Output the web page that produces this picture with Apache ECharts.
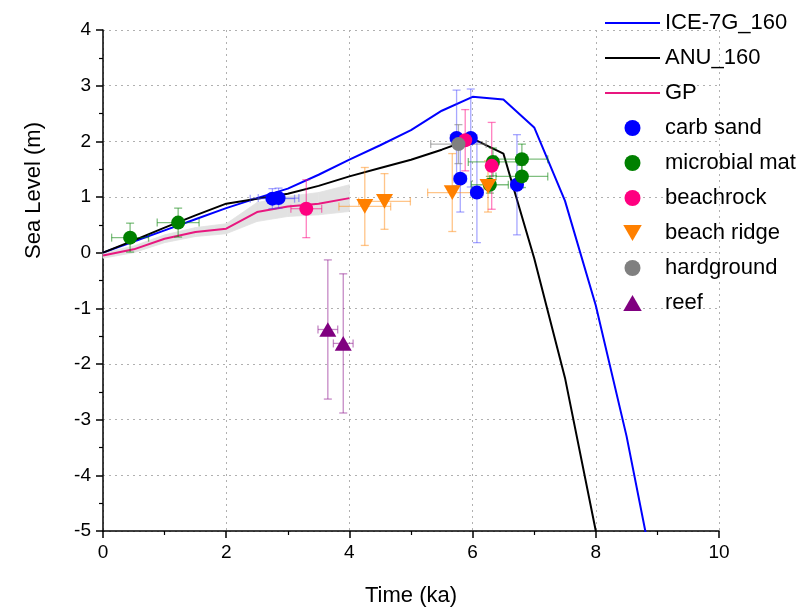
<!DOCTYPE html>
<html>
<head>
<meta charset="utf-8">
<script src="https://cdn.jsdelivr.net/npm/echarts@6/dist/echarts.min.js"></script>
<style>
html,body{margin:0;padding:0;background:#fff;}
#chart{width:809px;height:612px;}
</style>
</head>
<body>
<div id="chart"></div>
<script>
// ---- Model curves ----
const iceTime = [0,0.5,1,1.5,2,2.5,3,3.5,4,4.5,5,5.5,6,6.5,7,7.5,8,8.5,9];
const ice7g   = [0,0.2,0.4,0.6,0.8,0.98,1.15,1.4,1.67,1.93,2.2,2.55,2.8,2.75,2.25,0.93,-0.95,-3.3,-6.1];
const anuTime = [0,0.5,1,1.5,2,2.5,3,3.5,4,4.5,5,5.5,6,6.5,7,7.5,8];
const anu     = [0,0.22,0.45,0.67,0.88,0.97,1.06,1.2,1.37,1.52,1.67,1.85,2.05,1.78,-0.1,-2.25,-5.0];
const gpTime  = [0,0.5,1,1.5,2,2.5,3,3.5,4];
const gp      = [-0.05,0.06,0.25,0.37,0.43,0.73,0.83,0.88,0.98];
const gpLow   = [-0.10,0.00,0.18,0.29,0.34,0.56,0.65,0.68,0.74];
const gpHigh  = [0.00,0.12,0.32,0.45,0.52,0.90,1.01,1.08,1.22];

// ---- Observations: time, level, time error, level error ----
const carbSandT  = [2.75,2.85,5.74,5.97,5.8,6.07,6.72];
const carbSandY  = [0.97,0.98,2.06,2.06,1.33,1.08,1.22];
const carbSandTE = [0.36,0.33,0.1,0.1,0.1,0.1,0.1];
const carbSandYE = [0.18,0.18,0.86,0.88,0.6,0.9,0.9];

const microbT  = [0.44,1.22,6.33,6.8,6.8,6.28];
const microbY  = [0.27,0.54,1.63,1.68,1.37,1.22];
const microbTE = [0.3,0.34,0.4,0.42,0.42,0.3];
const microbYE = [0.26,0.26,0.25,0.27,0.2,0.15];

const beachrockT  = [3.3,5.88,6.31];
const beachrockY  = [0.79,2.02,1.56];
const beachrockTE = [0.25,0.1,0.06];
const beachrockYE = [0.52,0.55,0.78];

const ridgeT  = [4.25,4.57,5.67,6.25];
const ridgeY  = [0.83,0.92,1.08,1.19];
const ridgeTE = [0.42,0.42,0.4,0.07];
const ridgeYE = [0.7,0.5,0.7,0.46];

const hardT  = [5.77];
const hardY  = [1.95];
const hardTE = [0.45];
const hardYE = [0.35];

const reefT  = [3.65,3.9];
const reefY  = [-1.38,-1.63];
const reefTE = [0.16,0.16];
const reefYE = [1.25,1.25];

const xTicks = {min:0, max:10, interval:2};
const yTicks = {min:-5, max:4, interval:1};

const FONT = '"Liberation Sans", Arial, sans-serif';

function pairs(xs, ys){ return xs.map((x,i)=>[x, ys[i]]); }
function quad(xs, ys, xe, ye){ return xs.map((x,i)=>[x, ys[i], xe[i], ye[i]]); }

function errSeries(data, color){
  return {
    type:'custom', z:3, silent:true,
    data: data,
    encode:{x:0, y:1},
    renderItem: function(params, api){
      const x = api.value(0), y = api.value(1), xe = api.value(2), ye = api.value(3);
      const l = api.coord([x-xe, y]), r = api.coord([x+xe, y]);
      const t = api.coord([x, y+ye]), b = api.coord([x, y-ye]);
      const c = 4;
      const st = {stroke: color, lineWidth: 1.3, fill: null};
      return {type:'group', children:[
        {type:'line', shape:{x1:l[0],y1:l[1],x2:r[0],y2:r[1]}, style:st},
        {type:'line', shape:{x1:t[0],y1:t[1],x2:b[0],y2:b[1]}, style:st},
        {type:'line', shape:{x1:l[0],y1:l[1]-c,x2:l[0],y2:l[1]+c}, style:st},
        {type:'line', shape:{x1:r[0],y1:r[1]-c,x2:r[0],y2:r[1]+c}, style:st},
        {type:'line', shape:{x1:t[0]-c,y1:t[1],x2:t[0]+c,y2:t[1]}, style:st},
        {type:'line', shape:{x1:b[0]-c,y1:b[1],x2:b[0]+c,y2:b[1]}, style:st}
      ]};
    }
  };
}

const bandData = gpTime.slice(0,-1).map((t,i)=>[t, gpLow[i], gpHigh[i], gpTime[i+1], gpLow[i+1], gpHigh[i+1]]);

const axisCommon = {
  axisLine:{show:true, onZero:false, lineStyle:{color:'#000', width:1.5}},
  axisTick:{show:true, inside:false, length:7, lineStyle:{color:'#000', width:1.5}},
  minorTick:{show:true, splitNumber:2, length:4, lineStyle:{color:'#000', width:1.2}},
  splitLine:{show:true, lineStyle:{color:'#b0b0b0', width:1, type:[2,4]}},
  axisLabel:{color:'#000', fontSize:19, fontFamily:FONT},
  nameTextStyle:{color:'#000', fontSize:22, fontFamily:FONT}
};

const LINE_ICON = 'path://M0,0L60,0L60,2.2L0,2.2Z';
const DOWN_TRI = 'path://M0,0L10,0L5,8.66Z';
const UP_TRI = 'path://M5,0L10,8.66L0,8.66Z';

const chart = echarts.init(document.getElementById('chart'), null, {renderer:'canvas'});
chart.setOption({
  animation:false,
  backgroundColor:'#fff',
  grid:{left:103, right:90, top:30, bottom:80, containLabel:false},
  xAxis: Object.assign({type:'value', name:'Time (ka)', nameLocation:'middle', nameGap:54}, xTicks, axisCommon,
    {axisLabel:Object.assign({}, axisCommon.axisLabel, {margin:12})}),
  yAxis: Object.assign({type:'value', name:'Sea Level (m)', nameLocation:'middle', nameGap:58}, yTicks, axisCommon,
    {axisLabel:Object.assign({}, axisCommon.axisLabel, {margin:12}),
     nameTextStyle:Object.assign({}, axisCommon.nameTextStyle, {padding:[0,0,0,180]})}),
  legend:{
    orient:'vertical', left:600, top:7, itemWidth:55, itemHeight:16, itemGap:13,
    textStyle:{fontSize:22, fontFamily:FONT, color:'#000', lineHeight:20},
    data:[
      {name:'ICE-7G_160', icon:LINE_ICON},
      {name:'ANU_160', icon:LINE_ICON},
      {name:'GP', icon:LINE_ICON},
      {name:'carb sand', icon:'circle'},
      {name:'microbial mat', icon:'circle'},
      {name:'beachrock', icon:'circle'},
      {name:'beach ridge', icon:DOWN_TRI},
      {name:'hardground', icon:'circle'},
      {name:'reef', icon:UP_TRI}
    ]
  },
  series:[
    {
      type:'custom', name:'GPband', z:1, silent:true, data:bandData,
      encode:{x:[0,3], y:[1,2,4,5]},
      renderItem:function(params, api){
        const p1 = api.coord([api.value(0), api.value(1)]);
        const p2 = api.coord([api.value(3), api.value(4)]);
        const p3 = api.coord([api.value(3), api.value(5)]);
        const p4 = api.coord([api.value(0), api.value(2)]);
        return {type:'polygon', shape:{points:[p1,p2,p3,p4]}, style:{fill:'#e2e2e2', stroke:'#e2e2e2', lineWidth:0.8}};
      }
    },
    {type:'line', name:'ICE-7G_160', z:2, symbol:'none', data:pairs(iceTime, ice7g), lineStyle:{color:'#0000ff', width:2}, itemStyle:{color:'#0000ff'}},
    {type:'line', name:'ANU_160', z:2, symbol:'none', data:pairs(anuTime, anu), lineStyle:{color:'#000000', width:2}, itemStyle:{color:'#000000'}},
    {type:'line', name:'GP', z:2, symbol:'none', data:pairs(gpTime, gp), lineStyle:{color:'#e8177f', width:2}, itemStyle:{color:'#e8177f'}},
    errSeries(quad(carbSandT, carbSandY, carbSandTE, carbSandYE), 'rgba(60,60,255,0.45)'),
    errSeries(quad(microbT, microbY, microbTE, microbYE), 'rgba(0,128,0,0.5)'),
    errSeries(quad(beachrockT, beachrockY, beachrockTE, beachrockYE), 'rgba(255,0,128,0.5)'),
    errSeries(quad(ridgeT, ridgeY, ridgeTE, ridgeYE), 'rgba(255,140,20,0.5)'),
    errSeries(quad(hardT, hardY, hardTE, hardYE), 'rgba(128,128,128,0.6)'),
    errSeries(quad(reefT, reefY, reefTE, reefYE), 'rgba(150,40,150,0.55)'),
    {type:'scatter', name:'carb sand', z:4, symbol:'circle', symbolSize:14, data:pairs(carbSandT, carbSandY), itemStyle:{color:'#0000ff', opacity:1}},
    {type:'scatter', name:'microbial mat', z:4, symbol:'circle', symbolSize:14, data:pairs(microbT, microbY), itemStyle:{color:'#008000', opacity:1}},
    {type:'scatter', name:'beachrock', z:4, symbol:'circle', symbolSize:14, data:pairs(beachrockT, beachrockY), itemStyle:{color:'#ff0080', opacity:1}},
    {type:'scatter', name:'beach ridge', z:4, symbol:DOWN_TRI, symbolKeepAspect:true, symbolSize:17, data:pairs(ridgeT, ridgeY), itemStyle:{color:'#ff8000', opacity:1}},
    {type:'scatter', name:'hardground', z:4, symbol:'circle', symbolSize:14, data:pairs(hardT, hardY), itemStyle:{color:'#808080', opacity:1}},
    {type:'scatter', name:'reef', z:4, symbol:UP_TRI, symbolKeepAspect:true, symbolSize:17, data:pairs(reefT, reefY), itemStyle:{color:'#800080', opacity:1}}
  ]
});
</script>
</body>
</html>
